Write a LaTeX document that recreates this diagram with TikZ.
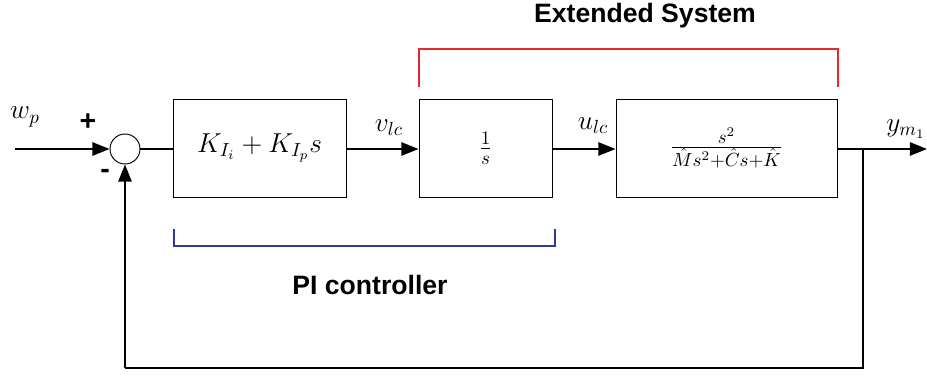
\documentclass[tikz,border=0pt]{standalone}
\usepackage{fontspec}
\newfontfamily\hv{Liberation Sans}
\usetikzlibrary{arrows.meta}
\definecolor{myred}{HTML}{E8262E}
\definecolor{myblue}{HTML}{2E3A9A}
\tikzset{
  blk/.style={draw, line width=0.5pt, minimum width=#1, minimum height=98*0.5263pt, inner sep=0pt},
  sig/.style={line width=0.9pt, -{Triangle[length=9pt,width=7pt]}},
  wire/.style={line width=0.9pt},
  lbl/.style={font=\fontsize{14}{16}\selectfont, inner sep=0pt},
  ttl/.style={font=\hv\bfseries\fontsize{14}{16}\selectfont, inner sep=0pt},
}
\begin{document}
\begin{tikzpicture}[x=0.5263pt, y=-0.5263pt]
\useasboundingbox (0,0) rectangle (927,376);
\node[draw, circle, line width=0.5pt, minimum size=30*0.5263pt, inner sep=0pt] (sum) at (125,149) {};
\node[blk=173*0.5263pt] (b1) at (259.5,148) {\fontsize{14.3}{16}\selectfont $K_{I_i}+K_{I_p}s$};
\node[blk=133*0.5263pt] (b2) at (485.5,148) {\fontsize{14.3}{16}\selectfont $\frac{1}{s}$};
\node[blk=221*0.5263pt] (b3) at (726.5,148) {\fontsize{14.3}{16}\selectfont $\frac{s^2}{\hat{M}s^2+\hat{C}s+\hat{K}}$};
\coordinate (in) at (15,149);
\coordinate (out) at (927,149);
\coordinate (br) at (863,149);
\coordinate (fb1) at (863,368);
\coordinate (fb2) at (125,368);
\draw[sig] (in) -- (sum.west);
\draw[wire] (sum.east) -- (sum.east -| b1.west);
\draw[sig] (b1.east |- 0,149) -- (b2.west |- 0,149);
\draw[sig] (b2.east |- 0,149) -- (b3.west |- 0,149);
\draw[sig] (b3.east |- 0,149) -- (out);
\draw[wire] (br) -- (fb1) -- (fb2);
\draw[sig] (fb2) -- (sum.south);
\node[lbl] (wp) at (25,117) {$w_p$};
\node[lbl, font=\hv\bfseries\fontsize{15}{16}\selectfont] (plus) at (88,122) {+};
\node[lbl, font=\hv\bfseries\fontsize{15}{16}\selectfont] (minus) at (105,174) {-};
\node[lbl] (vlc) at (389,128) {$v_{lc}$};
\node[lbl] (ulc) at (593,126) {$u_{lc}$};
\node[lbl] (ym) at (906,129) {$y_{m_1}$};
\coordinate (r1) at (419,87);
\coordinate (r2) at (419,49);
\coordinate (r3) at (838,49);
\coordinate (r4) at (838,87);
\draw[myred, line width=1pt] (r1) -- (r2) -- (r3) -- (r4);
\coordinate (q1) at (174,229);
\coordinate (q2) at (174,246);
\coordinate (q3) at (555,246);
\coordinate (q4) at (555,229);
\draw[myblue, line width=1pt] (q1) -- (q2) -- (q3) -- (q4);
\node[ttl] (ext) at (645,16) {Extended System};
\node[ttl] (pi) at (370,285) {PI controller};
\end{tikzpicture}
\end{document}
